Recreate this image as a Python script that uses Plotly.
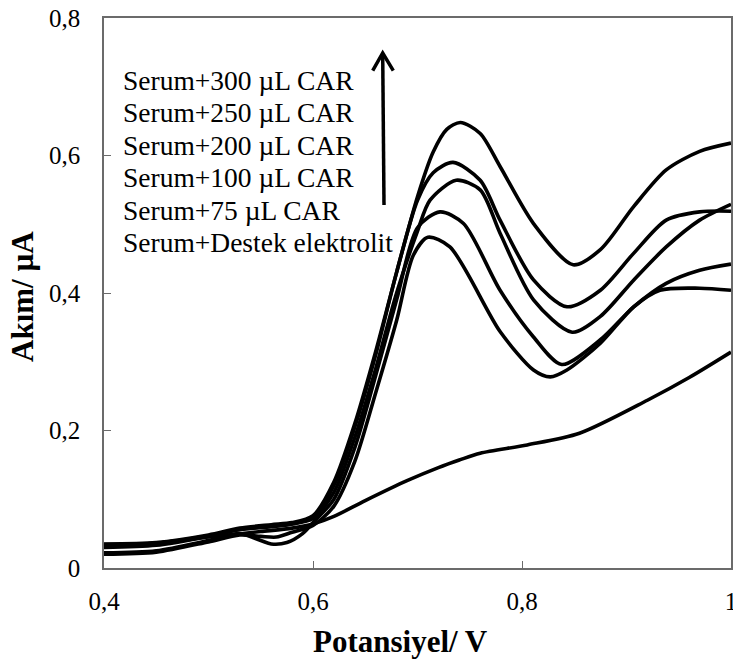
import plotly.graph_objects as go

# ---------------- data ----------------
x_300 = [0.40, 0.45, 0.50, 0.53, 0.56, 0.58, 0.60, 0.62, 0.64, 0.66, 0.68, 0.70, 0.715, 0.728, 0.741,
         0.76, 0.779, 0.811, 0.849, 0.875, 0.907, 0.938, 0.970, 1.0]
y_300 = [0.035, 0.037, 0.048, 0.058, 0.063, 0.066, 0.076, 0.125, 0.21, 0.315, 0.43, 0.54, 0.605, 0.638, 0.648,
         0.632, 0.584, 0.501, 0.441, 0.463, 0.526, 0.579, 0.606, 0.618]

x_250 = [0.40, 0.45, 0.50, 0.53, 0.56, 0.58, 0.60, 0.62, 0.64, 0.66, 0.68, 0.70, 0.715, 0.734,
         0.76, 0.779, 0.811, 0.843, 0.875, 0.907, 0.938, 0.970, 1.0]
y_250 = [0.030, 0.033, 0.046, 0.056, 0.060, 0.064, 0.074, 0.12, 0.205, 0.31, 0.43, 0.535, 0.575, 0.590,
         0.564, 0.506, 0.419, 0.380, 0.404, 0.458, 0.506, 0.518, 0.519]

x_200 = [0.40, 0.45, 0.50, 0.53, 0.56, 0.58, 0.60, 0.62, 0.64, 0.66, 0.68, 0.70, 0.712, 0.737,
         0.76, 0.779, 0.811, 0.848, 0.875, 0.907, 0.938, 0.970, 1.0]
y_200 = [0.034, 0.036, 0.047, 0.056, 0.061, 0.064, 0.072, 0.11, 0.19, 0.29, 0.40, 0.49, 0.535, 0.564,
         0.55, 0.487, 0.390, 0.343, 0.366, 0.419, 0.467, 0.506, 0.529]

x_100 = [0.40, 0.45, 0.50, 0.53, 0.55, 0.56, 0.575, 0.59, 0.60, 0.62, 0.64, 0.66, 0.68, 0.70, 0.7215,
         0.744, 0.779, 0.811, 0.838, 0.875, 0.907, 0.938, 0.970, 1.0]
y_100 = [0.022, 0.025, 0.040, 0.050, 0.040, 0.035, 0.037, 0.050, 0.066, 0.10, 0.175, 0.28, 0.39, 0.495, 0.518,
         0.501, 0.404, 0.336, 0.296, 0.332, 0.380, 0.414, 0.433, 0.442]

x_75 = [0.40, 0.45, 0.50, 0.53, 0.55, 0.565, 0.58, 0.60, 0.62, 0.64, 0.66, 0.68, 0.696, 0.710,
        0.731, 0.779, 0.811, 0.827, 0.843, 0.875, 0.907, 0.932, 0.970, 1.0]
y_75 = [0.020, 0.023, 0.038, 0.048, 0.046, 0.045, 0.052, 0.062, 0.09, 0.155, 0.255, 0.36, 0.455, 0.481,
        0.467, 0.344, 0.288, 0.278, 0.288, 0.327, 0.380, 0.404, 0.407, 0.404]

x_base = [0.40, 0.45, 0.50, 0.55, 0.58, 0.60, 0.62, 0.65, 0.69, 0.72, 0.74, 0.76, 0.805, 0.855,
          0.92, 0.96, 1.0]
y_base = [0.033, 0.036, 0.045, 0.053, 0.058, 0.064, 0.075, 0.098, 0.127, 0.146, 0.157, 0.167, 0.179, 0.196,
          0.244, 0.277, 0.314]

labels = ["Serum+300 µL CAR", "Serum+250 µL CAR", "Serum+200 µL CAR",
          "Serum+100 µL CAR", "Serum+75 µL CAR", "Serum+Destek elektrolit"]

x_ticks = [0.4, 0.6, 0.8, 1.0]
x_ticktext = ["0,4", "0,6", "0,8", "1"]
y_ticks = [0.0, 0.2, 0.4, 0.6, 0.8]
y_ticktext = ["0", "0,2", "0,4", "0,6", "0,8"]

# ---------------- figure ----------------
W, H = 733, 662
L, R, T, B = 104, 2, 18, 94
PW, PH = W - L - R, H - T - B

def px(xp):
    return (xp - L) / PW

def py(yp):
    return (H - B - yp) / PH

FONT = "Liberation Serif, Times New Roman, serif"

fig = go.Figure()
series = [(x_300, y_300), (x_250, y_250), (x_200, y_200), (x_100, y_100), (x_75, y_75), (x_base, y_base)]
for (xs, ys), name in zip(series, labels):
    fig.add_trace(go.Scatter(x=xs, y=ys, mode="lines", name=name,
                             line=dict(color="black", width=3.6, shape="spline", smoothing=0.8)))

axis_common = dict(showline=True, linecolor="#6b6b6b", linewidth=1.5, mirror=True,
                   ticks="inside", ticklen=7, tickwidth=1.2, tickcolor="#6b6b6b",
                   showgrid=False, zeroline=False, ticklabeloverflow="allow", automargin=False,
                   tickfont=dict(family=FONT, size=25, color="black"))

fig.update_layout(
    width=W, height=H,
    margin=dict(l=L, r=R, t=T, b=B, autoexpand=False),
    plot_bgcolor="white", paper_bgcolor="white",
    showlegend=False,
    font=dict(family=FONT, color="black"),
    xaxis=dict(range=[0.4, 1.0], tickvals=x_ticks, ticktext=x_ticktext, ticklabelstandoff=10, **axis_common),
    yaxis=dict(range=[0.0, 0.8], tickvals=y_ticks, ticktext=y_ticktext, ticklabelstandoff=17, **axis_common),
)

annotations = []
# Text labels
for i, lab in enumerate(labels):
    base_y = 90 + 32.4 * i
    annotations.append(dict(text=lab, xref="paper", yref="paper", x=px(121), y=py(base_y - 9.5),
                            xanchor="left", yanchor="middle", showarrow=False,
                            font=dict(family=FONT, size=27.5, color="black")))
# Axis titles
annotations.append(dict(text="<b>Potansiyel/ V</b>", xref="paper", yref="paper", x=px(400), y=py(641),
                        xanchor="center", yanchor="middle", showarrow=False,
                        font=dict(family=FONT, size=31, color="black")))
annotations.append(dict(text="<b>Akım/ µA</b>", xref="paper", yref="paper", x=px(22.5), y=py(296.5),
                        xanchor="center", yanchor="middle", showarrow=False, textangle=-90,
                        font=dict(family=FONT, size=31, color="black")))
fig.update_layout(annotations=annotations)

# Arrow
fig.add_shape(type="line", xref="paper", yref="paper", x0=px(384), y0=py(205), x1=px(382.7), y1=py(54),
              line=dict(color="black", width=3.5))
fig.add_shape(type="path", xref="paper", yref="paper",
              path=f"M {px(372.7)},{py(70.7)} L {px(382.7)},{py(53)} L {px(393.3)},{py(70.7)}",
              line=dict(color="black", width=3.5))

fig.write_html("out.html")
